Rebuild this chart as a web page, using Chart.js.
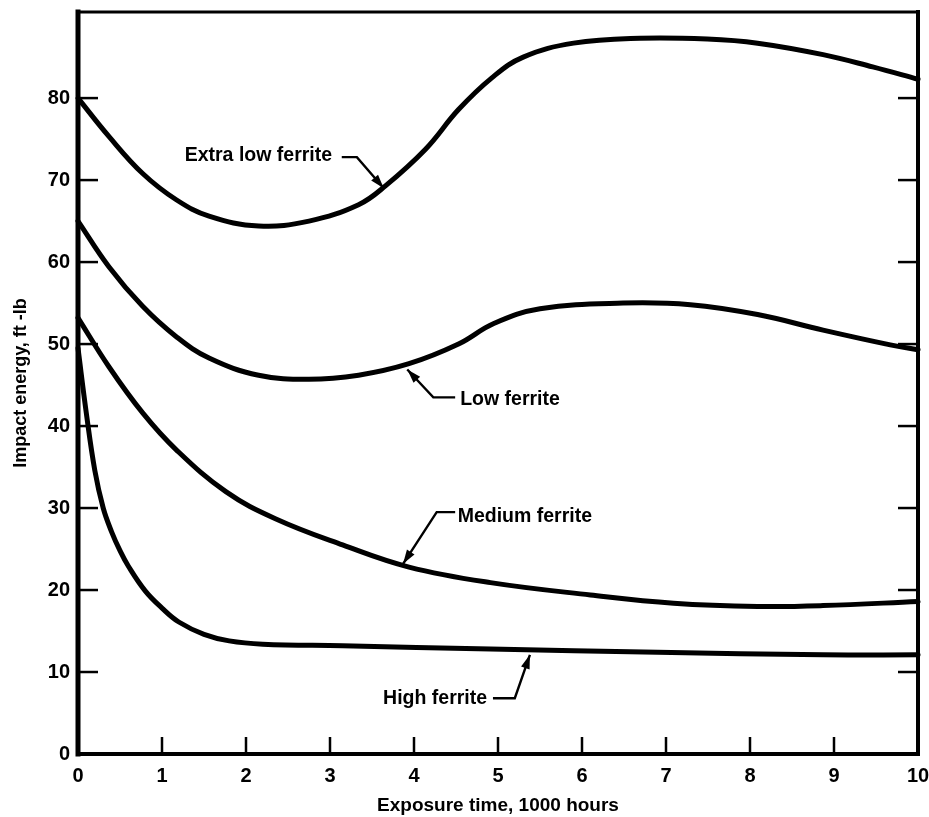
<!DOCTYPE html>
<html>
<head>
<meta charset="utf-8">
<title>Impact energy vs exposure time</title>
<script src="https://cdn.jsdelivr.net/npm/chart.js@4.4.1/dist/chart.umd.min.js"></script>
<style>
    html, body { margin: 0; padding: 0; background: #fff; }
    #wrap { width: 929px; height: 817px; position: relative; }
</style>
</head>
<body>
<div id="wrap"><canvas id="impactChart"></canvas></div>
<script>
// Tick labels
const xTicks = [0, 1, 2, 3, 4, 5, 6, 7, 8, 9, 10];
const yTicks = [0, 10, 20, 30, 40, 50, 60, 70, 80];

// Series (exposure time in 1000 h, impact energy in ft-lb)
const extraLowX = [0, 0.37, 0.77, 1.17, 1.56, 2.15, 2.75, 3.34, 3.66, 4.14, 4.53, 4.93, 5.3, 5.9, 6.69, 7.49, 8.09, 8.87, 9.46, 10];
const extraLowY = [80, 75.3, 70.8, 67.6, 65.6, 64.4, 65.0, 67.0, 69.3, 73.8, 78.6, 82.5, 85.0, 86.7, 87.3, 87.2, 86.7, 85.3, 83.8, 82.3];

const lowX = [0, 0.37, 0.77, 1.17, 1.56, 2.15, 2.75, 3.34, 3.94, 4.53, 4.95, 5.5, 6.49, 7.29, 8.09, 8.87, 9.67, 10];
const lowY = [65, 59.4, 54.6, 50.9, 48.3, 46.2, 45.7, 46.2, 47.6, 50.0, 52.5, 54.3, 55.0, 54.8, 53.6, 51.7, 49.9, 49.3];

const mediumX = [0, 0.37, 0.77, 1.17, 1.76, 2.35, 3.15, 3.94, 4.91, 6.1, 7.09, 8.09, 8.87, 10];
const mediumY = [53.2, 47.2, 41.6, 37.1, 32.0, 28.7, 25.5, 22.8, 20.9, 19.4, 18.4, 18.0, 18.1, 18.6];

const highX = [0, 0.1, 0.2, 0.3, 0.4, 0.5, 0.6, 0.8, 1.0, 1.2, 1.5, 1.8, 2.2, 3.15, 4.91, 6.9, 8.87, 10];
const highY = [49.5, 41.5, 34.6, 30.0, 27.1, 24.8, 22.9, 19.9, 17.8, 16.1, 14.6, 13.8, 13.4, 13.2, 12.8, 12.4, 12.1, 12.1];

// Curve labels with leader arrows (data coordinates)
const callouts = [
    { text: 'Extra low ferrite', align: 'left', at: [1.27, 73.0], path: [[3.14, 72.8], [3.32, 72.8], [3.64, 69.0]] },
    { text: 'Low ferrite', align: 'left', at: [4.55, 43.2], path: [[4.49, 43.5], [4.23, 43.5], [3.92, 46.9]] },
    { text: 'Medium ferrite', align: 'left', at: [4.52, 28.9], path: [[4.49, 29.5], [4.27, 29.5], [3.87, 23.2]] },
    { text: 'High ferrite', align: 'right', at: [4.87, 6.8], path: [[4.94, 6.8], [5.2, 6.8], [5.38, 12.1]] }
];

const FONT = '"Liberation Sans", Arial, Helvetica, sans-serif';
Chart.defaults.font.family = FONT;
Chart.defaults.color = '#000';

function toPoints(xs, ys) {
    return xs.map((x, i) => ({ x: x, y: ys[i] }));
}

function curve(label, xs, ys) {
    return {
        label: label,
        data: toPoints(xs, ys),
        showLine: true,
        borderColor: '#000',
        borderWidth: 5,
        pointRadius: 0,
        tension: 0.4,
        borderCapStyle: 'round',
        borderJoinStyle: 'round',
        clip: false
    };
}

function seg(ctx, x1, y1, x2, y2) {
    ctx.beginPath();
    ctx.moveTo(x1, y1);
    ctx.lineTo(x2, y2);
    ctx.stroke();
}

// Frame, inward tick marks and callouts
const framePlugin = {
    id: 'frame',
    afterDatasetsDraw(chart) {
        const { ctx, chartArea: a, scales: { x, y } } = chart;
        ctx.save();
        ctx.strokeStyle = '#000';
        ctx.fillStyle = '#000';

        ctx.lineWidth = 2.5;
        yTicks.slice(1).forEach(v => {
            const py = y.getPixelForValue(v);
            seg(ctx, a.left, py, a.left + 20, py);
            seg(ctx, a.right, py, a.right - 20, py);
        });
        xTicks.slice(1, -1).forEach(v => {
            const px = x.getPixelForValue(v);
            seg(ctx, px, a.bottom, px, a.bottom - 17);
        });

        ctx.lineCap = 'square';
        ctx.lineWidth = 5;
        seg(ctx, a.left, a.top, a.left, a.bottom);
        ctx.lineWidth = 4;
        seg(ctx, a.left, a.bottom, a.right, a.bottom);
        seg(ctx, a.right, a.top, a.right, a.bottom);
        ctx.lineWidth = 3;
        seg(ctx, a.left, a.top, a.right, a.top);

        // callouts
        ctx.lineCap = 'butt';
        ctx.font = 'bold 19.5px ' + FONT;
        ctx.textBaseline = 'middle';
        callouts.forEach(c => {
            ctx.textAlign = c.align;
            ctx.fillText(c.text, x.getPixelForValue(c.at[0]), y.getPixelForValue(c.at[1]));

            const pts = c.path.map(p => [x.getPixelForValue(p[0]), y.getPixelForValue(p[1])]);
            ctx.lineWidth = 2.4;
            ctx.beginPath();
            ctx.moveTo(pts[0][0], pts[0][1]);
            for (let i = 1; i < pts.length; i++) ctx.lineTo(pts[i][0], pts[i][1]);
            ctx.stroke();

            const tip = pts[pts.length - 1];
            const prev = pts[pts.length - 2];
            const ang = Math.atan2(tip[1] - prev[1], tip[0] - prev[0]);
            const len = 14, half = 4.5;
            ctx.beginPath();
            ctx.moveTo(tip[0], tip[1]);
            ctx.lineTo(tip[0] - len * Math.cos(ang) + half * Math.sin(ang), tip[1] - len * Math.sin(ang) - half * Math.cos(ang));
            ctx.lineTo(tip[0] - len * Math.cos(ang) - half * Math.sin(ang), tip[1] - len * Math.sin(ang) + half * Math.cos(ang));
            ctx.closePath();
            ctx.fill();
        });
        ctx.restore();
    }
};

new Chart(document.getElementById('impactChart'), {
    type: 'scatter',
    data: {
        datasets: [
            curve('Extra low ferrite', extraLowX, extraLowY),
            curve('Low ferrite', lowX, lowY),
            curve('Medium ferrite', mediumX, mediumY),
            curve('High ferrite', highX, highY)
        ]
    },
    options: {
        responsive: true,
        maintainAspectRatio: false,
        animation: false,
        layout: { padding: { top: 12, right: 11, left: 0, bottom: 0 } },
        plugins: {
            legend: { display: false },
            tooltip: { enabled: false }
        },
        scales: {
            x: {
                type: 'linear',
                min: 0,
                max: 10,
                afterBuildTicks: scale => { scale.ticks = xTicks.map(v => ({ value: v })); },
                afterFit: scale => {
                    scale.height = 63;
                    scale.paddingLeft = 0;
                    scale.paddingRight = 0;
                },
                grid: { display: false, drawTicks: false },
                border: { display: false },
                ticks: {
                    padding: 10,
                    maxRotation: 0,
                    font: { size: 20, weight: 'bold' }
                },
                title: {
                    display: true,
                    text: 'Exposure time, 1000 hours',
                    font: { size: 19, weight: 'bold' },
                    padding: { top: 3, bottom: 0 }
                }
            },
            y: {
                type: 'linear',
                min: 0,
                max: 90.5,
                afterBuildTicks: scale => { scale.ticks = yTicks.map(v => ({ value: v })); },
                afterFit: scale => {
                    scale.width = 78;
                    scale.paddingTop = 0;
                    scale.paddingBottom = 0;
                },
                grid: { display: false, drawTicks: false },
                border: { display: false },
                ticks: {
                    padding: 8,
                    font: { size: 20, weight: 'bold' }
                },
                title: {
                    display: true,
                    text: 'Impact energy, ft -lb',
                    font: { size: 18, weight: 'bold' },
                    padding: { top: 10, bottom: 0 }
                }
            }
        }
    },
    plugins: [framePlugin]
});
</script>
</body>
</html>
